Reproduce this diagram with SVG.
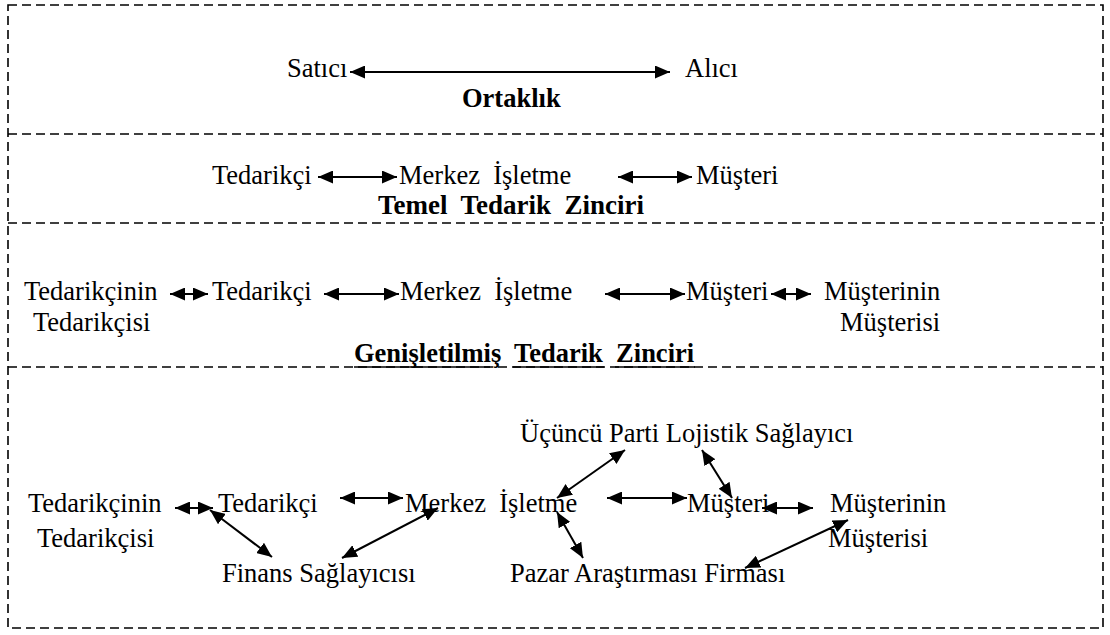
<svg xmlns="http://www.w3.org/2000/svg" width="1110" height="635" viewBox="0 0 1110 635">
  <style>
    .t { font-family: "Liberation Serif", "Times New Roman", serif; font-size: 26.5px; fill: #000; }
    .b { font-weight: bold; }
    .frame { fill: none; stroke: #000; stroke-width: 1.6; stroke-dasharray: 9 5; }
    .ul { stroke: #000; stroke-width: 1.6; }
    .c line { stroke: #000; stroke-width: 2; marker-start: url(#ah); marker-end: url(#ah); }
  </style>
  <defs>
    <marker id="ah" markerUnits="userSpaceOnUse" markerWidth="15" markerHeight="13" refX="15" refY="6.5" orient="auto-start-reverse">
      <path d="M0,0 L15,6.5 L0,13 z" fill="#000"/>
    </marker>
  </defs>
  <rect width="1110" height="635" fill="#fff"/>

  <!-- dashed frame and section dividers -->
  <g id="frame">
    <rect class="frame" x="8" y="5" width="1095" height="623"/>
    <line class="frame" x1="8" y1="134" x2="1103" y2="134"/>
    <line class="frame" x1="8" y1="223" x2="1103" y2="223"/>
    <line class="frame" x1="8" y1="367" x2="1103" y2="367"/>
  </g>

  <!-- section 1: partnership -->
  <g id="satici"><text class="t" x="287" y="77">Satıcı</text></g>
  <g id="alici"><text class="t" x="685" y="77">Alıcı</text></g>
  <g id="ortaklik"><text class="t b" x="462" y="107">Ortaklık</text></g>

  <!-- section 2: basic supply chain -->
  <g id="s2-tedarikci"><text class="t" x="212" y="184">Tedarikçi</text></g>
  <g id="s2-merkez"><text class="t" x="399" y="184" xml:space="preserve">Merkez  İşletme</text></g>
  <g id="s2-musteri"><text class="t" x="696" y="184">Müşteri</text></g>
  <g id="s2-title"><text class="t b" x="378" y="214" style="font-size:27px" xml:space="preserve">Temel  Tedarik  Zinciri</text></g>

  <!-- section 3: extended supply chain -->
  <g id="s3-tedarikcinin">
    <text class="t" x="24" y="300">Tedarikçinin</text>
    <text class="t" x="33" y="331">Tedarikçisi</text>
  </g>
  <g id="s3-tedarikci"><text class="t" x="212" y="300">Tedarikçi</text></g>
  <g id="s3-merkez"><text class="t" x="400" y="300" xml:space="preserve">Merkez  İşletme</text></g>
  <g id="s3-musteri"><text class="t" x="686" y="300">Müşteri</text></g>
  <g id="s3-musterinin">
    <text class="t" x="824" y="300">Müşterinin</text>
    <text class="t" x="840" y="331">Müşterisi</text>
  </g>
  <g id="s3-title">
    <text class="t b" x="354" y="362" xml:space="preserve">Genişletilmiş  Tedarik  Zinciri</text>
    <line class="ul" x1="354" y1="367" x2="490" y2="367"/>
    <line class="ul" x1="513" y1="367" x2="604" y2="367"/>
    <line class="ul" x1="615" y1="367" x2="695" y2="367"/>
  </g>

  <!-- section 4: supply chain with service providers -->
  <g id="s4-lojistik"><text class="t" x="520" y="442">Üçüncü Parti Lojistik Sağlayıcı</text></g>
  <g id="s4-tedarikcinin">
    <text class="t" x="28" y="512">Tedarikçinin</text>
    <text class="t" x="37" y="547">Tedarikçisi</text>
  </g>
  <g id="s4-tedarikci"><text class="t" x="218" y="512">Tedarikçi</text></g>
  <g id="s4-merkez"><text class="t" x="405" y="512" xml:space="preserve">Merkez  İşletme</text></g>
  <g id="s4-musteri"><text class="t" x="687" y="512">Müşteri</text></g>
  <g id="s4-musterinin">
    <text class="t" x="830" y="512">Müşterinin</text>
    <text class="t" x="828" y="547">Müşterisi</text>
  </g>
  <g id="s4-finans"><text class="t" x="222" y="582">Finans Sağlayıcısı</text></g>
  <g id="s4-pazar"><text class="t" x="510" y="582">Pazar Araştırması Firması</text></g>

  <!-- two-way connectors -->
  <g id="connectors" class="c">
    <line x1="350" y1="72" x2="670" y2="72"/>

    <line x1="318" y1="177" x2="397" y2="177"/>
    <line x1="618" y1="177" x2="692" y2="177"/>

    <line x1="170" y1="294" x2="208" y2="294"/>
    <line x1="324" y1="294" x2="399" y2="294"/>
    <line x1="605" y1="294" x2="685" y2="294"/>
    <line x1="771" y1="294" x2="811" y2="294"/>

    <line x1="175" y1="508" x2="213" y2="508"/>
    <line x1="340" y1="498" x2="403" y2="498"/>
    <line x1="607" y1="498" x2="687" y2="498"/>
    <line x1="762" y1="508" x2="813" y2="508"/>
    <line x1="210" y1="510" x2="272" y2="557"/>
    <line x1="342" y1="558" x2="438" y2="508"/>
    <line x1="557" y1="498" x2="625" y2="450"/>
    <line x1="557" y1="512" x2="583" y2="558"/>
    <line x1="702" y1="450" x2="732" y2="498"/>
    <line x1="745" y1="568" x2="848" y2="520"/>
  </g>
</svg>
